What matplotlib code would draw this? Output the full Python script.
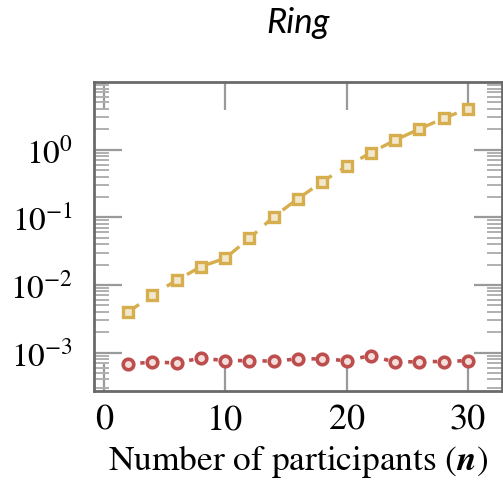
import matplotlib
matplotlib.use("Agg")
import matplotlib.pyplot as plt
from matplotlib.ticker import LogLocator, NullFormatter, FixedLocator

plt.rcParams["mathtext.fontset"] = "stix"
plt.rcParams["font.family"] = "serif"
plt.rcParams["font.serif"] = ["STIXGeneral", "Liberation Serif", "DejaVu Serif"]

# Participants in the ring protocol
participants = [2, 4, 6, 8, 10, 12, 14, 16, 18, 20, 22, 24, 26, 28, 30]

# Running time (s) for the two variants
time_slow = [0.00395, 0.0071, 0.0117, 0.0186, 0.0248, 0.049, 0.102, 0.188,
             0.336, 0.566, 0.90, 1.38, 2.02, 2.91, 4.03]
time_fast = [0.00068, 0.00072, 0.000705, 0.000826, 0.00076, 0.00076, 0.000746,
             0.000807, 0.000807, 0.00076, 0.000903, 0.00072, 0.000736, 0.000736,
             0.00076]

x_ticks = [0, 10, 20, 30]

yellow = "#D6AE4E"
yellow_fill = "#F1E7CC"
red = "#BE4E4E"
red_fill = "#F3DEDC"

fig = plt.figure(figsize=(5.03, 4.81), dpi=100)
ax = fig.add_axes([0.187, 0.185, 0.811, 0.6425])

ax.plot(participants, time_slow, linestyle=(0, (4, 3)), color=yellow, lw=2.4,
        marker="s", markersize=7.2, markeredgewidth=2.4,
        markerfacecolor=yellow_fill, markeredgecolor=yellow)
ax.plot(participants, time_fast, linestyle=(0, (1.2, 2.2)), color=red, lw=2.6,
        marker="o", markersize=7.6, markeredgewidth=2.6,
        markerfacecolor=red_fill, markeredgecolor=red)

ax.set_yscale("log")
ax.set_xlim(-0.8, 32.8)
ax.set_ylim(2.7e-4, 10.0)

ax.xaxis.set_major_locator(FixedLocator(x_ticks))
ax.yaxis.set_major_locator(LogLocator(base=10, numticks=10))
ax.yaxis.set_minor_locator(LogLocator(base=10, subs=range(2, 10), numticks=20))
ax.yaxis.set_minor_formatter(NullFormatter())

ax.tick_params(axis="both", which="major", direction="in", length=20, width=1.6,
               color="#9a9a9a", top=True, right=True)
ax.tick_params(axis="x", which="major", labelsize=26, pad=9)
ax.tick_params(axis="y", which="major", labelsize=24, pad=15)
ax.tick_params(axis="y", which="minor", direction="in", length=11, width=1.4,
               color="#b0b0b0", left=True, right=True)
ax.set_yticks([1e-3, 1e-2, 1e-1, 1e0])

for s in ax.spines.values():
    s.set_color("#6a6a6a")
    s.set_linewidth(2.0)

ax.set_xlabel(r"Number of participants ($\boldsymbol{n}$)", fontsize=25.5, labelpad=4)
ax.set_title("Ring", fontsize=25, style="italic", family="Lato", pad=36)

fig.savefig("out.png", dpi=100)
